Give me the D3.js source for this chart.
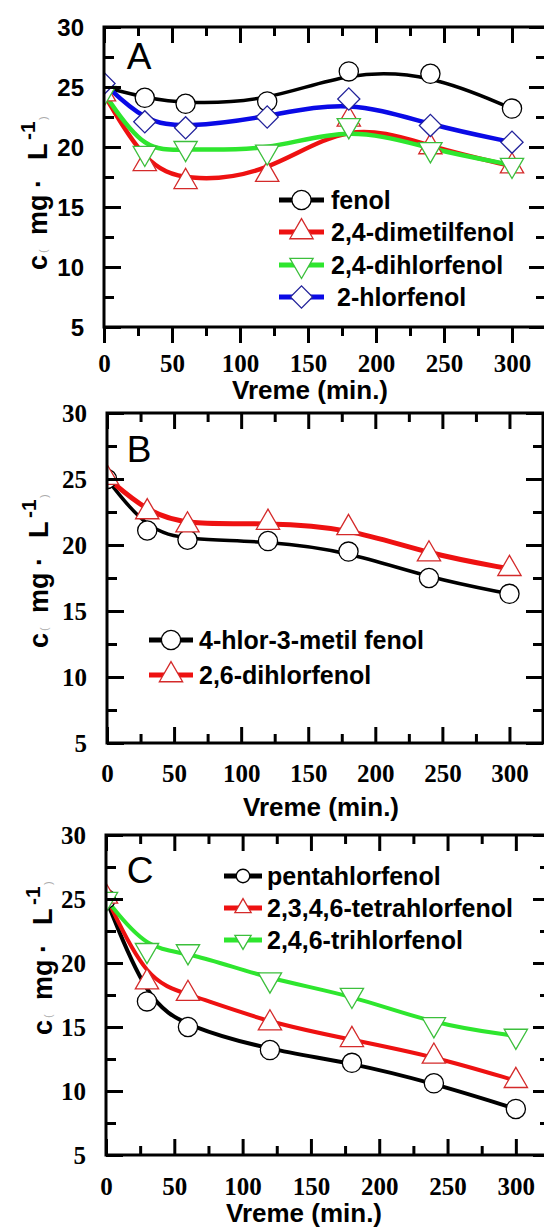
<!DOCTYPE html>
<html>
<head>
<meta charset="utf-8">
<script src="https://cdn.jsdelivr.net/npm/d3@7"></script>
<style>
  body { margin: 0; background: #fff; }
  svg { display: block; }
  .serif { font-family: "Liberation Serif", "DejaVu Serif", "Times New Roman", serif; font-weight: bold; }
  .sans  { font-family: "Liberation Sans", Arial, "DejaVu Sans", sans-serif; }
</style>
</head>
<body>
<svg id="fig" width="544" height="1229"></svg>
<script>
// Sampling times (min.)
const times = [0, 30, 60, 120, 180, 240, 300];

// Panel A — concentrations (mg·L-1)
const fenol          = [25.0, 24.1, 23.6, 23.8, 26.3, 26.1, 23.2];
const dimetilfenol24 = [24.4, 18.6, 17.1, 17.7, 22.3, 20.0, 18.4];
const dihlorfenol24  = [24.5, 19.5, 19.9, 19.6, 21.8, 19.8, 18.5];
const hlorfenol2     = [25.3, 22.1, 21.6, 22.5, 24.0, 21.8, 20.4];

// Panel B
const hlorMetilFenol = [25.0, 21.1, 20.4, 20.3, 19.5, 17.5, 16.3];
const dihlorfenol26  = [25.1, 22.5, 21.5, 21.7, 21.3, 19.3, 18.2];

// Panel C
const pentahlorfenol   = [25.0, 17.0, 15.0, 13.2, 12.2, 10.6, 8.6];
const tetrahlorfenol   = [25.2, 18.5, 17.6, 15.3, 14.0, 12.7, 10.8];
const trihlorfenol246  = [25.0, 21.0, 20.9, 18.7, 17.5, 15.2, 14.3];

// Axis ticks and labels
const xMajorTicks = [0, 50, 100, 150, 200, 250, 300];
const xTickLabels = ["0", "50", "100", "150", "200", "250", "300"];
const xMinorTicks = [25, 75, 125, 175, 225, 275];
const yMajorTicks = [5, 10, 15, 20, 25, 30];
const yTickLabels = ["5", "10", "15", "20", "25", "30"];
const yMinorTicks = [7.5, 12.5, 17.5, 22.5, 27.5];
const xDomain = [0, 325];
const yDomain = [5, 30];

const svg = d3.select("#fig");
svg.append("rect").attr("width", 544).attr("height", 1229).attr("fill", "#fff");

const symbols = {
  circle:   { type: d3.symbolCircle,   size: 290, rotate: 0 },
  triUp:    { type: d3.symbolTriangle, size: 235, rotate: 0 },
  triDown:  { type: d3.symbolTriangle, size: 235, rotate: 180 },
  diamond:  { type: d3.symbolSquare,   size: 245, rotate: 45 }
};

function marker(g, kind, cx, cy, stroke, scale) {
  const s = symbols[kind];
  g.append("path")
    .attr("d", d3.symbol().type(s.type).size(s.size * scale * scale)())
    .attr("transform", `translate(${cx},${cy}) rotate(${s.rotate})`)
    .attr("fill", "#fff")
    .attr("stroke", stroke)
    .attr("stroke-width", 1.3);
}

function drawPanel(p) {
  const x = d3.scaleLinear().domain(xDomain).range([p.x0, p.x1]);
  const y = d3.scaleLinear().domain(yDomain).range([p.yb, p.yt]);
  const g = svg.append("g");

  const clipId = "clip-" + p.letter;
  g.append("clipPath").attr("id", clipId)
    .append("rect")
    .attr("x", p.x0).attr("y", p.yt)
    .attr("width", p.x1 - p.x0).attr("height", p.yb - p.yt);

  const plot = g.append("g").attr("clip-path", `url(#${clipId})`);
  const line = d3.line()
    .x(d => x(d[0]))
    .y(d => y(d[1]))
    .curve(d3.curveBasis);

  p.series.forEach(s => {
    plot.append("path")
      .datum(times.map((t, i) => [t, s.values[i]]))
      .attr("d", line)
      .attr("fill", "none")
      .attr("stroke", s.color)
      .attr("stroke-width", s.width);
  });
  p.series.forEach(s => {
    times.forEach((t, i) => marker(plot, s.symbol, x(t), y(s.values[i]), s.markerStroke, 1));
  });

  // axes
  function addAxis(gen, tx, ty) {
    const a = g.append("g").attr("transform", `translate(${tx},${ty})`).call(gen);
    a.select(".domain").remove();
    a.attr("font-family", null).attr("font-size", null);
    a.selectAll(".tick line").attr("stroke", "#000").attr("stroke-width", 3);
    return a;
  }
  const bMaj = p.bottomOut ? 16 : -16, bMin = p.bottomOut ? 9 : -9;
  const bottom = addAxis(d3.axisBottom(x).tickValues(xMajorTicks)
      .tickFormat((d, i) => xTickLabels[i]).tickSize(bMaj), 0, p.yb);
  bottom.selectAll("text")
    .attr("class", "serif")
    .attr("y", p.xLabelOff).attr("dy", "0.35em")
    .style("font-size", "25px").attr("fill", "#000");
  addAxis(d3.axisBottom(x).tickValues(xMinorTicks).tickFormat("").tickSize(bMin), 0, p.yb);
  addAxis(d3.axisTop(x).tickValues(xMajorTicks).tickFormat("").tickSize(-16), 0, p.yt);
  addAxis(d3.axisTop(x).tickValues(xMinorTicks).tickFormat("").tickSize(-9), 0, p.yt);

  const left = addAxis(d3.axisLeft(y).tickValues(yMajorTicks)
      .tickFormat((d, i) => yTickLabels[i]).tickSize(-17), p.x0, 0);
  left.selectAll("text")
    .attr("class", p.yLabelClass)
    .attr("x", -p.yLabelPad).attr("dy", "0.35em")
    .style("font-size", p.yLabelSize + "px").style("font-weight", "bold")
    .attr("fill", "#000");
  addAxis(d3.axisLeft(y).tickValues(yMinorTicks).tickFormat("").tickSize(-10), p.x0, 0);
  addAxis(d3.axisRight(y).tickValues(yMajorTicks).tickFormat("").tickSize(-17), p.x1, 0);
  addAxis(d3.axisRight(y).tickValues(yMinorTicks).tickFormat("").tickSize(-10), p.x1, 0);

  // frame
  g.append("rect")
    .attr("x", p.x0).attr("y", p.yt)
    .attr("width", p.x1 - p.x0).attr("height", p.yb - p.yt)
    .attr("fill", "none").attr("stroke", "#000").attr("stroke-width", 3);

  // panel letter
  g.append("text")
    .attr("class", "sans")
    .attr("x", p.letterPos[0]).attr("y", p.letterPos[1])
    .attr("text-anchor", "middle").attr("dominant-baseline", "central")
    .style("font-size", "37px")
    .text(p.letter);

  // x title
  g.append("text")
    .attr("class", "sans")
    .attr("x", p.xTitlePos[0]).attr("y", p.xTitlePos[1])
    .attr("text-anchor", "middle").attr("dominant-baseline", "central")
    .style("font-weight", "bold").style("font-size", "26px")
    .text("Vreme (min.)");

  // y title, reading upwards
  const yt = g.append("g")
    .attr("class", "sans")
    .attr("transform", `translate(${p.yTitlePos[0]},${p.yTitlePos[1]}) rotate(-90)`);
  const parts = [
    { t: "c",  off: 0,   size: 27, lift: 0 },
    { t: "(",  off: 17,  size: 11, lift: 0, fill: "#aaa", weight: "normal" },
    { t: "mg", off: 35,  size: 27, lift: 0 },
    { t: "·",  off: 82,  size: 27, lift: 0 },
    { t: "L",  off: 110, size: 27, lift: 0 },
    { t: "-1", off: 130, size: 21, lift: 12 },
    { t: ")",  off: 150, size: 11, lift: 0, fill: "#aaa", weight: "normal" }
  ];
  parts.forEach(q => {
    yt.append("text")
      .attr("x", q.off).attr("y", -q.lift)
      .style("font-size", q.size + "px")
      .style("font-weight", q.weight || "bold")
      .attr("fill", q.fill || "#000")
      .text(q.t);
  });

  // legend
  const lg = g.append("g");
  p.series.forEach((s, i) => {
    const ly = p.legend.rows[i];
    lg.append("line")
      .attr("x1", p.legend.x0).attr("x2", p.legend.x1)
      .attr("y1", ly).attr("y2", ly)
      .attr("stroke", s.color).attr("stroke-width", 5);
    marker(lg, s.symbol, (p.legend.x0 + p.legend.x1) / 2, ly, s.markerStroke, p.legend.markerScale);
    lg.append("text")
      .attr("class", "sans")
      .attr("x", p.legend.tx + (s.labelIndent || 0)).attr("y", ly)
      .attr("dominant-baseline", "central")
      .style("font-weight", "bold").style("font-size", "25px")
      .text(s.label);
  });
}

const BLACK = "#000", RED = "#ee1111", GREEN = "#2ee62e", BLUE = "#0a0ae6";

drawPanel({
  letter: "A", x0: 104, x1: 546, yt: 27, yb: 327, bottomOut: true,
  xLabelOff: 36, yLabelPad: 20, yLabelClass: "sans", yLabelSize: 24,
  letterPos: [139, 56], xTitlePos: [310, 390], yTitlePos: [47, 270],
  legend: { x0: 279, x1: 324, tx: 331, rows: [200, 232, 265, 297], markerScale: 1 },
  series: [
    { label: "fenol", values: fenol, color: BLACK, width: 3.5, symbol: "circle", markerStroke: "#000" },
    { label: "2,4-dimetilfenol", values: dimetilfenol24, color: RED, width: 4.5, symbol: "triUp", markerStroke: "#d42a2a" },
    { label: "2,4-dihlorfenol", values: dihlorfenol24, color: GREEN, width: 4.5, symbol: "triDown", markerStroke: "#3cbf3c" },
    { label: "2-hlorfenol", values: hlorfenol2, color: BLUE, width: 4.5, symbol: "diamond", markerStroke: "#22229a", labelIndent: 6 }
  ]
});

drawPanel({
  letter: "B", x0: 107, x1: 543, yt: 413, yb: 743, bottomOut: false,
  xLabelOff: 30, yLabelPad: 20, yLabelClass: "serif", yLabelSize: 25,
  letterPos: [139, 449], xTitlePos: [321, 807], yTitlePos: [48, 648],
  legend: { x0: 149, x1: 193, tx: 199, rows: [640, 675], markerScale: 1 },
  series: [
    { label: "4-hlor-3-metil fenol", values: hlorMetilFenol, color: BLACK, width: 3.5, symbol: "circle", markerStroke: "#000" },
    { label: "2,6-dihlorfenol", values: dihlorfenol26, color: RED, width: 5, symbol: "triUp", markerStroke: "#d42a2a" }
  ]
});

drawPanel({
  letter: "C", x0: 106, x1: 550, yt: 835, yb: 1155, bottomOut: false,
  xLabelOff: 31, yLabelPad: 20, yLabelClass: "serif", yLabelSize: 25,
  letterPos: [140, 870], xTitlePos: [304, 1213], yTitlePos: [52, 1035],
  legend: { x0: 224, x1: 262, tx: 267, rows: [876, 908, 940], markerScale: 0.7 },
  series: [
    { label: "pentahlorfenol", values: pentahlorfenol, color: BLACK, width: 4, symbol: "circle", markerStroke: "#000" },
    { label: "2,3,4,6-tetrahlorfenol", values: tetrahlorfenol, color: RED, width: 4, symbol: "triUp", markerStroke: "#d42a2a" },
    { label: "2,4,6-trihlorfenol", values: trihlorfenol246, color: GREEN, width: 4, symbol: "triDown", markerStroke: "#3cbf3c" }
  ]
});
</script>
</body>
</html>
